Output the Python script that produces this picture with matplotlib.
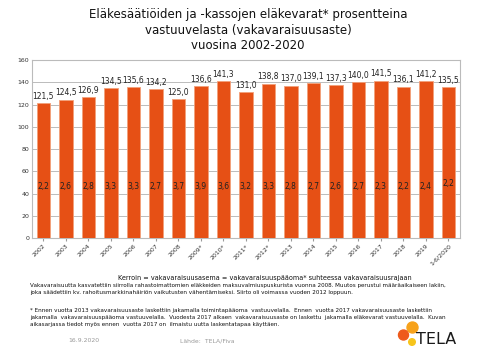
import matplotlib
matplotlib.use("Agg")
import matplotlib.pyplot as plt
from matplotlib.patches import Circle

categories = ["2002", "2003", "2004", "2005", "2006", "2007", "2008", "2009*", "2010*",
              "2011*", "2012*", "2013", "2014", "2015", "2016", "2017", "2018", "2019", "1-6/2020"]
values = [121.5, 124.5, 126.9, 134.5, 135.6, 134.2, 125.0, 136.6, 141.3,
          131.0, 138.8, 137.0, 139.1, 137.3, 140.0, 141.5, 136.1, 141.2, 135.5]
ratios = [2.2, 2.6, 2.8, 3.3, 3.3, 2.7, 3.7, 3.9, 3.6, 3.2, 3.3, 2.8, 2.7, 2.6, 2.7, 2.3, 2.2, 2.4, 2.2]
yticks = [0, 20, 40, 60, 80, 100, 120, 140, 160]

def fi(v, d=1):
    return f"{v:.{d}f}".replace(".", ",")

fig = plt.figure(figsize=(4.8, 3.6), dpi=100)
ax = fig.add_axes([0.0667, 0.339, 0.891, 0.494])

x = list(range(len(categories)))
bars = ax.bar(x, values, width=0.6, color="#E65015", edgecolor="#F2A07A", linewidth=0.6, zorder=3)
ax.set_xlim(-0.5, len(categories) - 0.5)
ax.set_ylim(0, 160)
ax.set_yticks(yticks)
ax.set_yticklabels([str(t) for t in yticks], fontsize=4.5, color="#333333")
ax.set_xticks(x)
ax.set_xticklabels(categories, rotation=45, ha="right", rotation_mode="anchor", fontsize=4.5, color="#333333")
ax.tick_params(axis="y", length=0, pad=2)
ax.tick_params(axis="x", length=2, color="#999999", pad=2)
ax.grid(axis="y", color="#BBBBBB", linewidth=0.7, zorder=0)
for s in ax.spines.values():
    s.set_color("#BBBBBB")
    s.set_linewidth(0.8)

for xi, v, r in zip(x, values, ratios):
    ax.text(xi, v + 2, fi(v), ha="center", va="bottom", fontsize=5.5, color="#222222")
    ax.text(xi, 46 if xi != len(x) - 1 else 49, fi(r), ha="center", va="center", fontsize=5.5, color="#222222", zorder=4)

fig.text(0.517, 0.977, "Eläkesäätiöiden ja -kassojen eläkevarat* prosentteina\nvastuuvelasta (vakavaraisuusaste)\nvuosina 2002-2020",
         ha="center", va="top", fontsize=8.5, linespacing=1.25, color="#111111")

fig.text(0.552, 0.229, "Kerroin = vakavaraisuusasema = vakavaraisuuspääoma* suhteessa vakavaraisuusrajaan",
         ha="center", va="center", fontsize=4.7, color="#111111")
fig.text(0.062, 0.215, "Vakavaraisuutta kasvatettiin siirrolla rahastoimattomien eläkkeiden maksuvalmiuspuskurista vuonna 2008. Muutos perustui määräaikaiseen lakiin,\n"
         "joka säädettiin kv. rahoitusmarkkinahäiriön vaikutusten vähentämiseksi. Siirto oli voimassa vuoden 2012 loppuun.",
         ha="left", va="top", fontsize=4.1, linespacing=1.6, color="#111111")
fig.text(0.062, 0.145, "* Ennen vuotta 2013 vakavaraisuusaste laskettiin jakamalla toimintapääoma  vastuuvelalla.  Ennen  vuotta 2017 vakavaraisuusaste laskettiin\n"
         "jakamalla  vakavaraisuuspääoma vastuuvelalla.  Vuodesta 2017 alkaen  vakavaraisuusaste on laskettu  jakamalla eläkevarat vastuuvelalla.  Kuvan\n"
         "aikasarjassa tiedot myös ennen  vuotta 2017 on  ilmaistu uutta laskentatapaa käyttäen.",
         ha="left", va="top", fontsize=4.1, linespacing=1.5, color="#111111")
fig.text(0.142, 0.053, "16.9.2020", ha="left", va="center", fontsize=4.4, color="#999999")
fig.text(0.375, 0.053, "Lähde:  TELA/Fiva", ha="left", va="center", fontsize=4.4, color="#999999")

# TELA logo
lax = fig.add_axes([0, 0, 1, 1], facecolor="none")
lax.set_xlim(0, 480)
lax.set_ylim(360, 0)
lax.axis("off")
lax.add_patch(Circle((412.5, 327.5), 5.5, color="#F7A21B", zorder=1))
lax.add_patch(Circle((403.5, 335), 5.0, color="#EE5A1C", zorder=2))
lax.add_patch(Circle((412, 342), 3.3, color="#F7C51B", zorder=2))
lax.text(416, 339.5, "TELA", ha="left", va="center", fontsize=11.5, color="#1A1A1A")

fig.savefig("out.png", dpi=100)
